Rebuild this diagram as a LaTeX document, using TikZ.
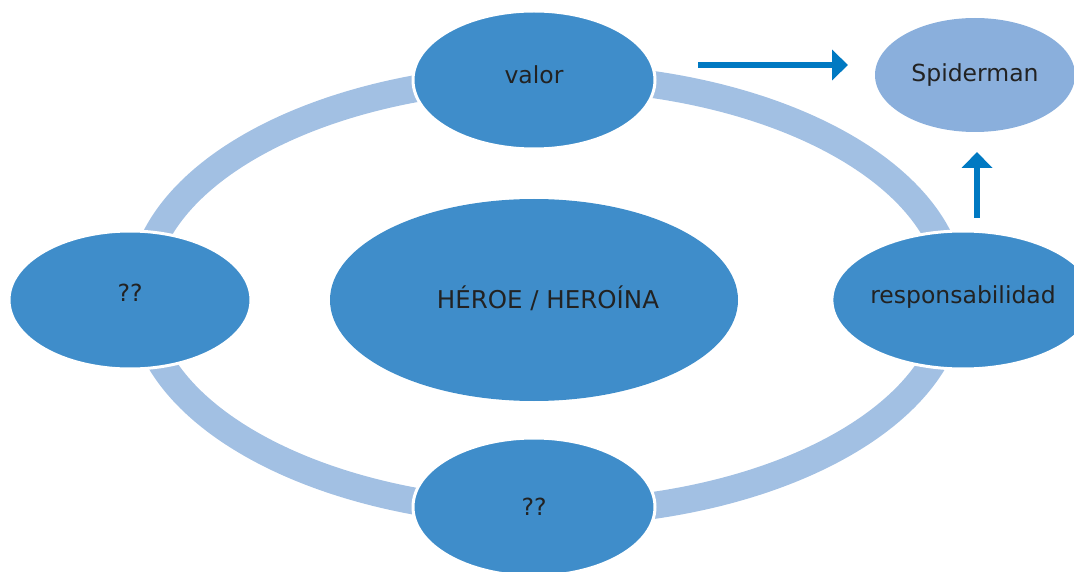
\documentclass[tikz,border=0pt]{standalone}
\usepackage{fontspec}
\setmainfont{DejaVu Sans}
\usetikzlibrary{arrows.meta,shapes.geometric}
\definecolor{nodeblue}{HTML}{3F8DCA}
\definecolor{ringblue}{HTML}{A2C0E3}
\definecolor{spiderblue}{HTML}{8AAFDC}
\definecolor{arrowblue}{HTML}{0079C2}
\definecolor{textgray}{HTML}{222222}
\tikzset{
  bubble/.style={ellipse, fill=nodeblue, draw=white, line width=3pt, inner sep=0pt,
    text=textgray, font=\fontsize{23.5}{28}\selectfont,
    minimum width=242pt, minimum height=138pt},
  centerbubble/.style={bubble, minimum width=408pt, minimum height=202pt, draw=none,
    font=\fontsize{24.5}{29}\selectfont},
  spiderbubble/.style={bubble, fill=spiderblue, draw=none, minimum width=200pt, minimum height=114pt},
  ring/.style={draw=ringblue, line width=27pt},
  bluearrow/.style={draw=arrowblue, line width=5.5pt,
    -{Triangle[length=16pt,width=30pt]}}
}
\begin{document}
\begin{tikzpicture}[x=1pt,y=-1pt]
\useasboundingbox (0,0) rectangle (1074,572);
\clip (0,0) rectangle (1074,572);
\draw[ring] (547,295) ellipse [x radius=406, y radius=218];
\node[bubble] (valor) at (534,80) {\raisebox{10pt}{valor}};
\node[bubble] (left) at (130,300) {\raisebox{14pt}{??}};
\node[bubble] (resp) at (963,300) {\raisebox{10pt}{responsabilidad}};
\node[bubble] (bottom) at (534,507) {??};
\node[centerbubble] (hero) at (534,300) {\hspace*{28pt}\raisebox{6pt}{HÉROE / HEROÍNA}};
\node[spiderbubble] (spider) at (975,75) {Spiderman};
\coordinate (h1) at (698,65);
\coordinate (h2) at (848,65);
\coordinate (v1) at (977,218);
\coordinate (v2) at (977,152);
\draw[bluearrow] (h1) -- (h2);
\draw[bluearrow] (v1) -- (v2);
\end{tikzpicture}
\end{document}
